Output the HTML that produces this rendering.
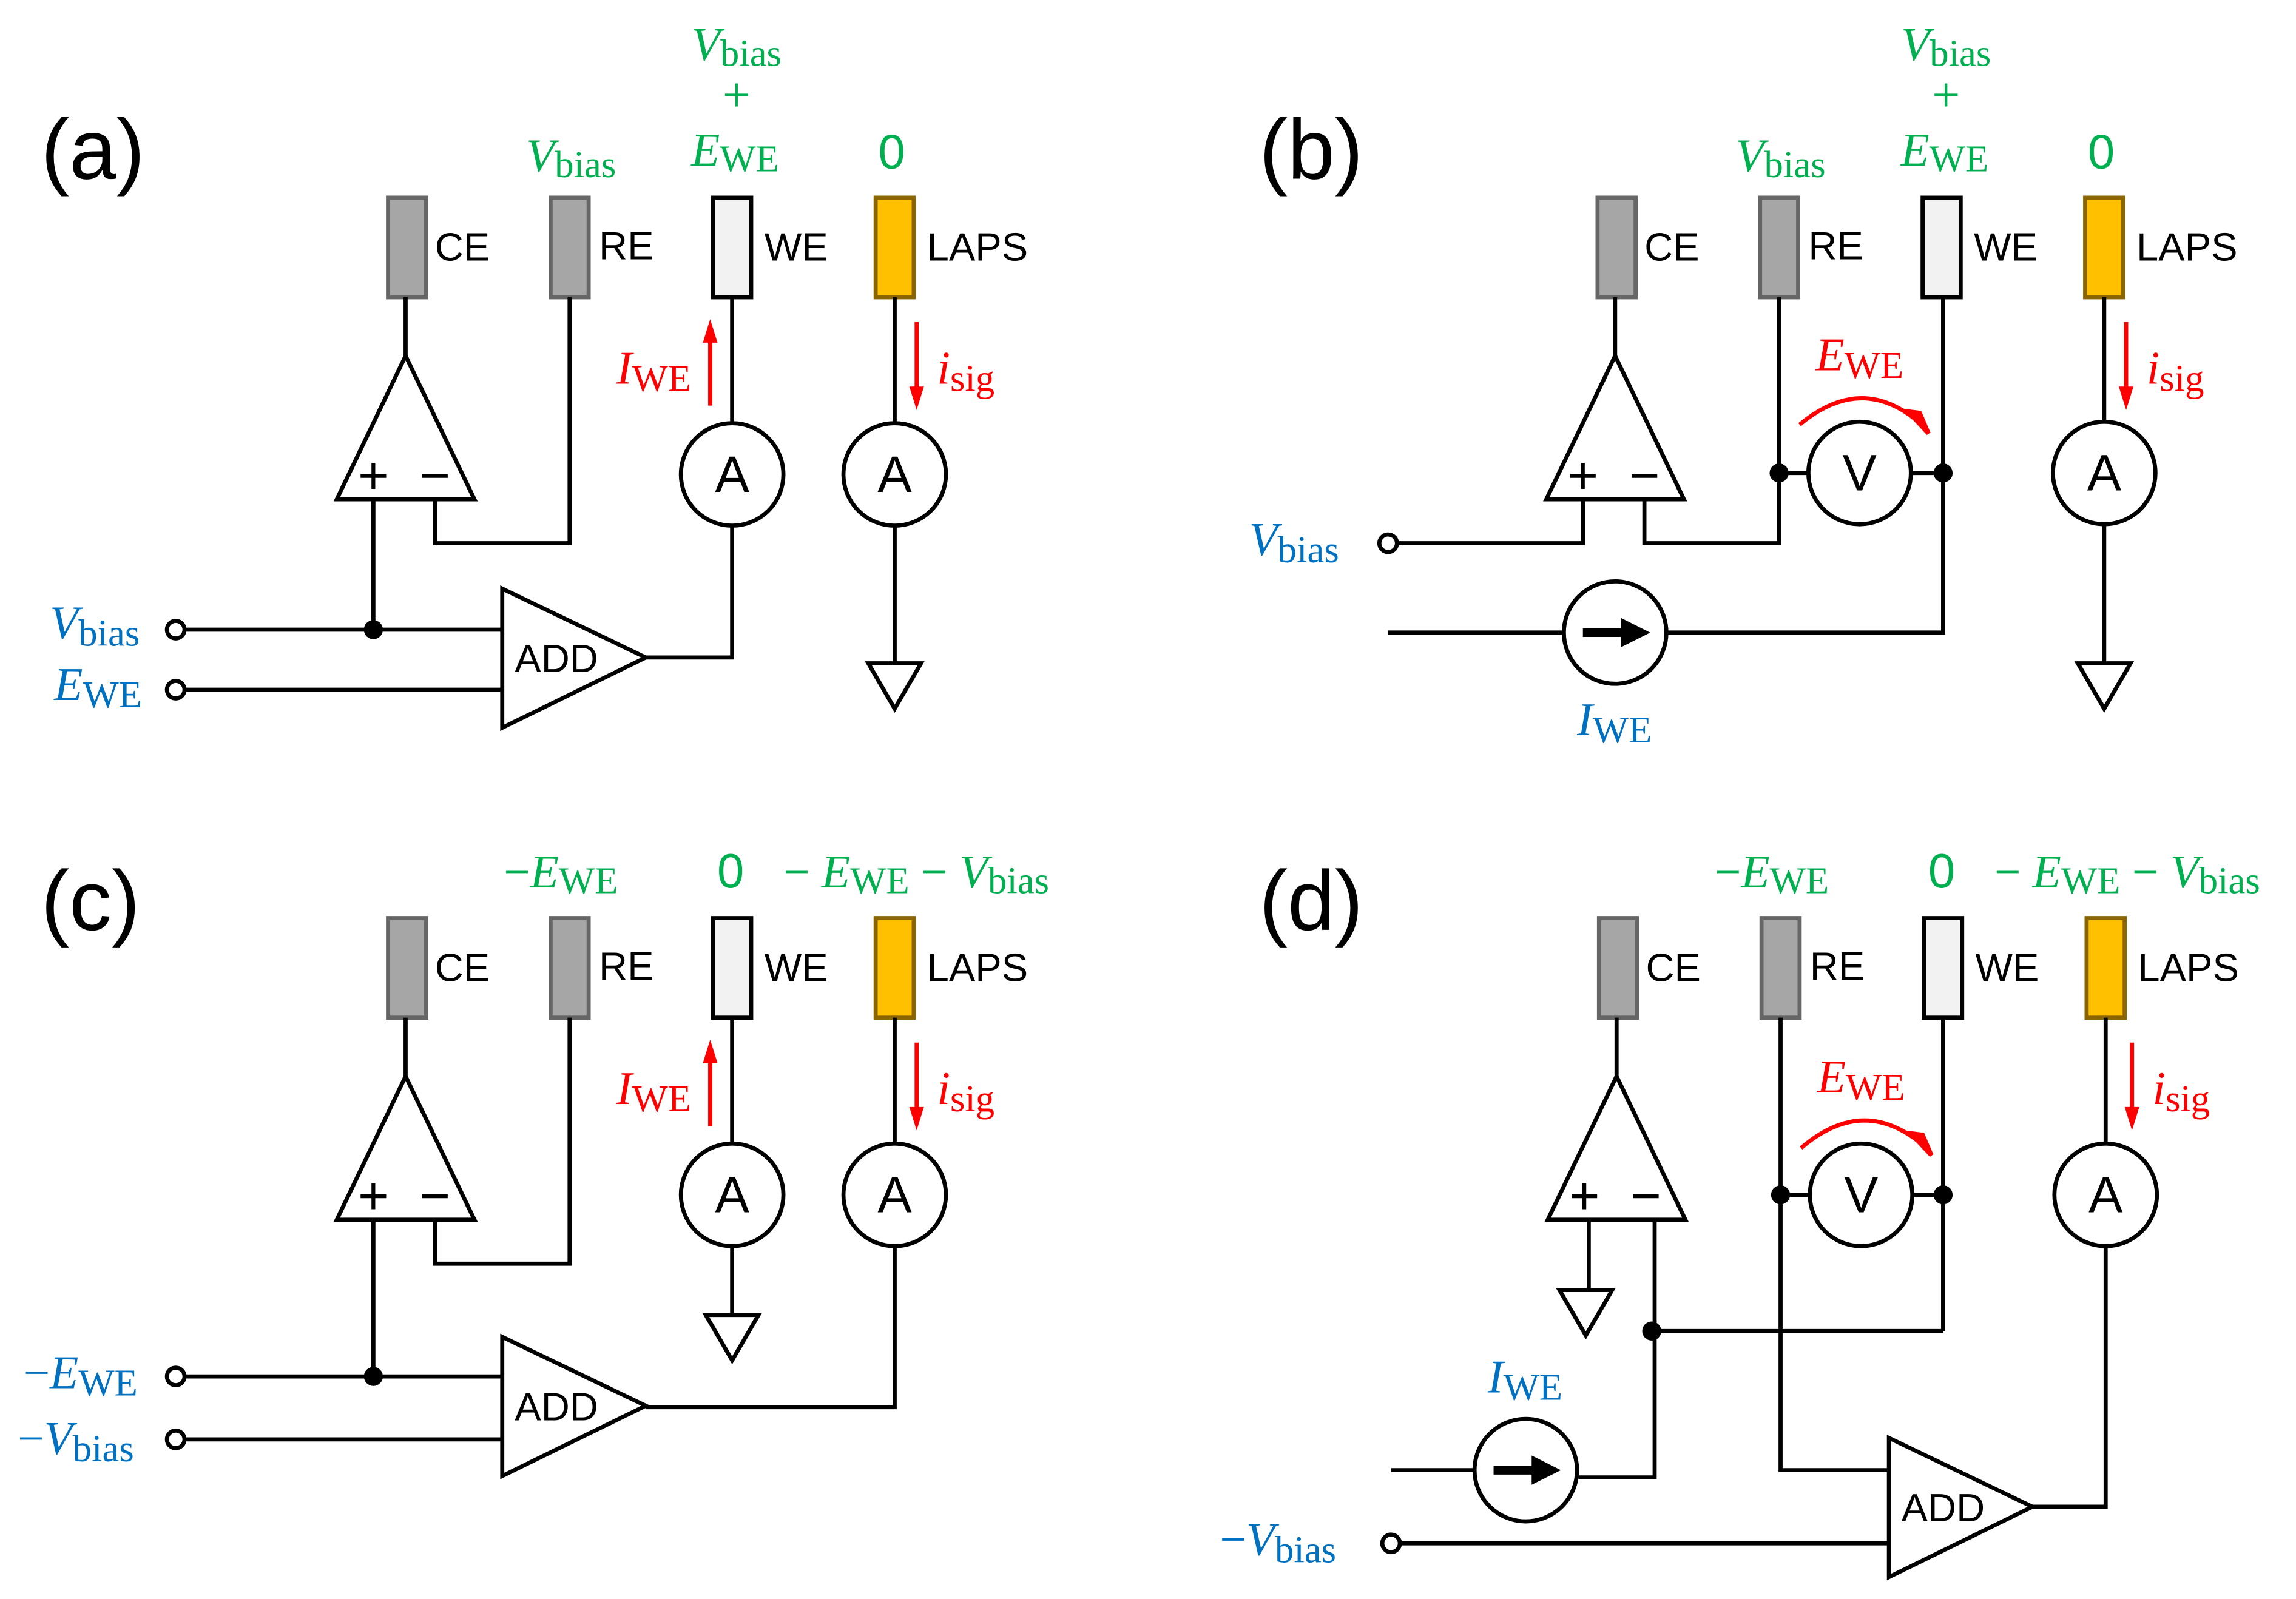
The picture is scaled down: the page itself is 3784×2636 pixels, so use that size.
<!DOCTYPE html>
<html><head><meta charset="utf-8"><style>
html,body{margin:0;padding:0;background:#fff}
svg{display:block}
text{font-family:"Liberation Sans",sans-serif}
.m{font-family:"Liberation Serif",serif}
.i{font-style:italic}
.g{fill:#00b050}.b{fill:#0070c0}.r{fill:#ff0000}
</style></head><body>
<svg width="3784" height="2636" viewBox="0 0 1568 1092" preserveAspectRatio="none" xmlns="http://www.w3.org/2000/svg">
<defs>
<g id="elec">
<rect x="265" y="135" width="26" height="68" fill="#a6a6a6" stroke="#666" stroke-width="2.8"/>
<rect x="376" y="135" width="26" height="68" fill="#a6a6a6" stroke="#666" stroke-width="2.8"/>
<rect x="487" y="135" width="26" height="68" fill="#f2f2f2" stroke="#000" stroke-width="2.8"/>
<rect x="598" y="135" width="26" height="68" fill="#ffc000" stroke="#8a6500" stroke-width="2.8"/>
<text x="297" y="178" font-size="27">CE</text>
<text x="409" y="177" font-size="27">RE</text>
<text x="522" y="178" font-size="27">WE</text>
<text x="633" y="178" font-size="27">LAPS</text>
</g>
<g id="opamp">
<polygon points="277,243 230,341 324,341" fill="#fff" stroke="#000" stroke-width="2.8"/>
<text x="255" y="337" font-size="36" text-anchor="middle">+</text>
<text x="297" y="337" font-size="36" text-anchor="middle">−</text>
<line x1="277" y1="203" x2="277" y2="243" stroke="#000" stroke-width="2.8"/>
</g>
<g id="ammeter">
<circle cx="0" cy="0" r="35" fill="#fff" stroke="#000" stroke-width="2.8"/>
<text x="0" y="12" font-size="35" text-anchor="middle">A</text>
</g>
<g id="gnd"><polygon points="-18,0 18,0 0,31" fill="#fff" stroke="#000" stroke-width="2.8"/></g>
<g id="isrc">
<circle cx="0" cy="0" r="35" fill="#fff" stroke="#000" stroke-width="2.8"/>
<line x1="-22" y1="0" x2="6" y2="0" stroke="#000" stroke-width="6"/>
<polygon points="4,-10 24,0 4,10" fill="#000"/>
</g>
<g id="volt">
<circle cx="0" cy="0" r="35" fill="#fff" stroke="#000" stroke-width="2.8"/>
<text x="0" y="12" font-size="35" text-anchor="middle">V</text>
</g>
<g id="add">
<polygon points="0,0 0,95 98,47" fill="#fff" stroke="#000" stroke-width="2.8"/>
<text x="37" y="57" font-size="27" text-anchor="middle">ADD</text>
</g>
<g id="isig">
<line x1="0" y1="220" x2="0" y2="266" stroke="#f00" stroke-width="2.8"/>
<polygon points="-5,264 5,264 0,280" fill="#f00"/>
<text x="14" y="262" class="m r" font-size="32"><tspan class="i">i</tspan><tspan font-size="26" dy="5">sig</tspan></text>
</g>
</defs>

<!-- ===== (a) ===== -->
<text x="28" y="122" font-size="58">(a)</text>
<use href="#elec"/>
<text x="390" y="117" class="m g" font-size="32" text-anchor="middle"><tspan class="i">V</tspan><tspan font-size="26" dy="4">bias</tspan></text>
<text x="503" y="41" class="m g" font-size="32" text-anchor="middle"><tspan class="i">V</tspan><tspan font-size="26" dy="4">bias</tspan></text>
<text x="503" y="76" class="m g" font-size="34" text-anchor="middle">+</text>
<text x="502" y="113" class="m g" font-size="32" text-anchor="middle"><tspan class="i">E</tspan><tspan font-size="26" dy="4">WE</tspan></text>
<text x="609" y="115" class="g" font-size="33" text-anchor="middle">0</text>
<g stroke="#000" stroke-width="2.8" fill="none">
<polyline points="389,203 389,371 297,371 297,341"/>
<line x1="255" y1="341" x2="255" y2="430"/>
<line x1="126" y1="430" x2="343" y2="430"/>
<line x1="126" y1="471" x2="343" y2="471"/>
<polyline points="441,449 500,449 500,359"/>
<line x1="500" y1="203" x2="500" y2="289"/>
<line x1="611" y1="203" x2="611" y2="453"/>
</g>
<use href="#opamp"/>
<circle cx="255" cy="430" r="6.5" fill="#000"/>
<circle cx="120" cy="430" r="6" fill="#fff" stroke="#000" stroke-width="2.8"/>
<circle cx="120" cy="471" r="6" fill="#fff" stroke="#000" stroke-width="2.8"/>
<use href="#add" x="343" y="402"/>
<use href="#ammeter" x="500" y="324"/>
<use href="#ammeter" x="611" y="324"/>
<use href="#gnd" x="611" y="453"/>
<line x1="485" y1="277" x2="485" y2="232" stroke="#f00" stroke-width="2.8"/>
<polygon points="480,234 490,234 485,218" fill="#f00"/>
<text x="421" y="262" class="m r" font-size="32"><tspan class="i">I</tspan><tspan font-size="26" dy="5">WE</tspan></text>
<use href="#isig" x="626"/>
<text x="34" y="436" class="m b" font-size="32"><tspan class="i">V</tspan><tspan font-size="26" dy="5">bias</tspan></text>
<text x="37" y="478" class="m b" font-size="32"><tspan class="i">E</tspan><tspan font-size="26" dy="5">WE</tspan></text>

<!-- ===== (b) ===== -->
<text x="860" y="122" font-size="58">(b)</text>
<g transform="translate(826,0)">
<use href="#elec"/>
<text x="390" y="117" class="m g" font-size="32" text-anchor="middle"><tspan class="i">V</tspan><tspan font-size="26" dy="4">bias</tspan></text>
<text x="503" y="41" class="m g" font-size="32" text-anchor="middle"><tspan class="i">V</tspan><tspan font-size="26" dy="4">bias</tspan></text>
<text x="503" y="76" class="m g" font-size="34" text-anchor="middle">+</text>
<text x="502" y="113" class="m g" font-size="32" text-anchor="middle"><tspan class="i">E</tspan><tspan font-size="26" dy="4">WE</tspan></text>
<text x="609" y="115" class="g" font-size="33" text-anchor="middle">0</text>
<use href="#opamp"/>
<line x1="611" y1="203" x2="611" y2="453" stroke="#000" stroke-width="2.8"/>
<use href="#ammeter" x="611" y="323"/>
<use href="#gnd" x="611" y="453"/>
<use href="#isig" x="626"/>
</g>
<g stroke="#000" stroke-width="2.8" fill="none">
<polyline points="1215,203 1215,371 1123,371 1123,341"/>
<polyline points="1081,341 1081,371 954,371"/>
<line x1="1215" y1="323" x2="1327" y2="323"/>
<polyline points="1327,203 1327,432 1139,432"/>
<line x1="948" y1="432" x2="1068" y2="432"/>
<path d="M1229,290 Q1271,255 1310,288" stroke="#f00"/>
</g>
<polygon points="1303,281 1317,296 1311,282" fill="#f00" stroke="#f00" stroke-width="3"/>
<use href="#volt" x="1270" y="323"/>
<circle cx="1215" cy="323" r="6.5" fill="#000"/>
<circle cx="1327" cy="323" r="6.5" fill="#000"/>
<circle cx="948" cy="371" r="6" fill="#fff" stroke="#000" stroke-width="2.8"/>
<use href="#isrc" x="1103" y="432"/>
<text x="1240" y="253" class="m r" font-size="32"><tspan class="i">E</tspan><tspan font-size="26" dy="5">WE</tspan></text>
<text x="853" y="379" class="m b" font-size="32"><tspan class="i">V</tspan><tspan font-size="26" dy="5">bias</tspan></text>
<text x="1077" y="502" class="m b" font-size="32"><tspan class="i">I</tspan><tspan font-size="26" dy="5">WE</tspan></text>

<!-- ===== (c) ===== -->
<text x="28" y="635" font-size="58">(c)</text>
<g transform="translate(0,492)">
<use href="#elec"/>
<use href="#opamp"/>
<use href="#isig" x="626"/>
<line x1="485" y1="277" x2="485" y2="232" stroke="#f00" stroke-width="2.8"/>
<polygon points="480,234 490,234 485,218" fill="#f00"/>
<text x="421" y="262" class="m r" font-size="32"><tspan class="i">I</tspan><tspan font-size="26" dy="5">WE</tspan></text>
</g>
<text x="383" y="606" class="m g" font-size="32" text-anchor="middle">−<tspan class="i">E</tspan><tspan font-size="26" dy="4">WE</tspan></text>
<text x="499" y="606" class="g" font-size="33" text-anchor="middle">0</text>
<text x="535" y="606" class="m g" font-size="32">− <tspan class="i">E</tspan><tspan font-size="26" dy="4">WE</tspan><tspan dy="-4"> − </tspan><tspan class="i">V</tspan><tspan font-size="26" dy="4">bias</tspan></text>
<g stroke="#000" stroke-width="2.8" fill="none">
<polyline points="389,695 389,863 297,863 297,833"/>
<line x1="255" y1="833" x2="255" y2="940"/>
<line x1="126" y1="940" x2="343" y2="940"/>
<line x1="126" y1="983" x2="343" y2="983"/>
<line x1="500" y1="695" x2="500" y2="898"/>
<polyline points="611,695 611,961 441,961"/>
</g>
<circle cx="255" cy="940" r="6.5" fill="#000"/>
<circle cx="120" cy="940" r="6" fill="#fff" stroke="#000" stroke-width="2.8"/>
<circle cx="120" cy="983" r="6" fill="#fff" stroke="#000" stroke-width="2.8"/>
<use href="#add" x="343" y="913"/>
<use href="#ammeter" x="500" y="816"/>
<use href="#ammeter" x="611" y="816"/>
<use href="#gnd" x="500" y="898"/>
<text x="16" y="948" class="m b" font-size="32">−<tspan class="i">E</tspan><tspan font-size="26" dy="5">WE</tspan></text>
<text x="12" y="993" class="m b" font-size="32">−<tspan class="i">V</tspan><tspan font-size="26" dy="5">bias</tspan></text>

<!-- ===== (d) ===== -->
<text x="860" y="635" font-size="58">(d)</text>
<g transform="translate(827,492)">
<use href="#elec"/>
<use href="#opamp"/>
<use href="#isig" x="629"/>
</g>
<text x="1210" y="606" class="m g" font-size="32" text-anchor="middle">−<tspan class="i">E</tspan><tspan font-size="26" dy="4">WE</tspan></text>
<text x="1326" y="606" class="g" font-size="33" text-anchor="middle">0</text>
<text x="1362" y="606" class="m g" font-size="32">− <tspan class="i">E</tspan><tspan font-size="26" dy="4">WE</tspan><tspan dy="-4"> − </tspan><tspan class="i">V</tspan><tspan font-size="26" dy="4">bias</tspan></text>
<g stroke="#000" stroke-width="2.8" fill="none">
<line x1="1085" y1="833" x2="1085" y2="882"/>
<polyline points="1130,833 1130,1009 1078,1009"/>
<line x1="1130" y1="909" x2="1327" y2="909"/>
<line x1="1327" y1="695" x2="1327" y2="909"/>
<line x1="950" y1="1004" x2="1007" y2="1004"/>
<polyline points="1216,695 1216,1004 1290,1004"/>
<line x1="1216" y1="816" x2="1327" y2="816"/>
<polyline points="1388,1029 1438,1029 1438,695"/>
<line x1="956" y1="1054" x2="1290" y2="1054"/>
<path d="M1230,784 Q1272,748 1312,781" stroke="#f00"/>
</g>
<polygon points="1305,774 1319,789 1313,775" fill="#f00" stroke="#f00" stroke-width="3"/>
<use href="#gnd" x="1083" y="881"/>
<use href="#volt" x="1271" y="816"/>
<use href="#ammeter" x="1438" y="816"/>
<circle cx="1216" cy="816" r="6.5" fill="#000"/>
<circle cx="1327" cy="816" r="6.5" fill="#000"/>
<circle cx="1128" cy="909" r="6.5" fill="#000"/>
<use href="#isrc" x="1042" y="1004"/>
<use href="#add" x="1290" y="982"/>
<circle cx="950" cy="1054" r="6" fill="#fff" stroke="#000" stroke-width="2.8"/>
<text x="1241" y="746" class="m r" font-size="32"><tspan class="i">E</tspan><tspan font-size="26" dy="5">WE</tspan></text>
<text x="1016" y="951" class="m b" font-size="32"><tspan class="i">I</tspan><tspan font-size="26" dy="5">WE</tspan></text>
<text x="833" y="1062" class="m b" font-size="32">−<tspan class="i">V</tspan><tspan font-size="26" dy="5">bias</tspan></text>
</svg>
</body></html>
